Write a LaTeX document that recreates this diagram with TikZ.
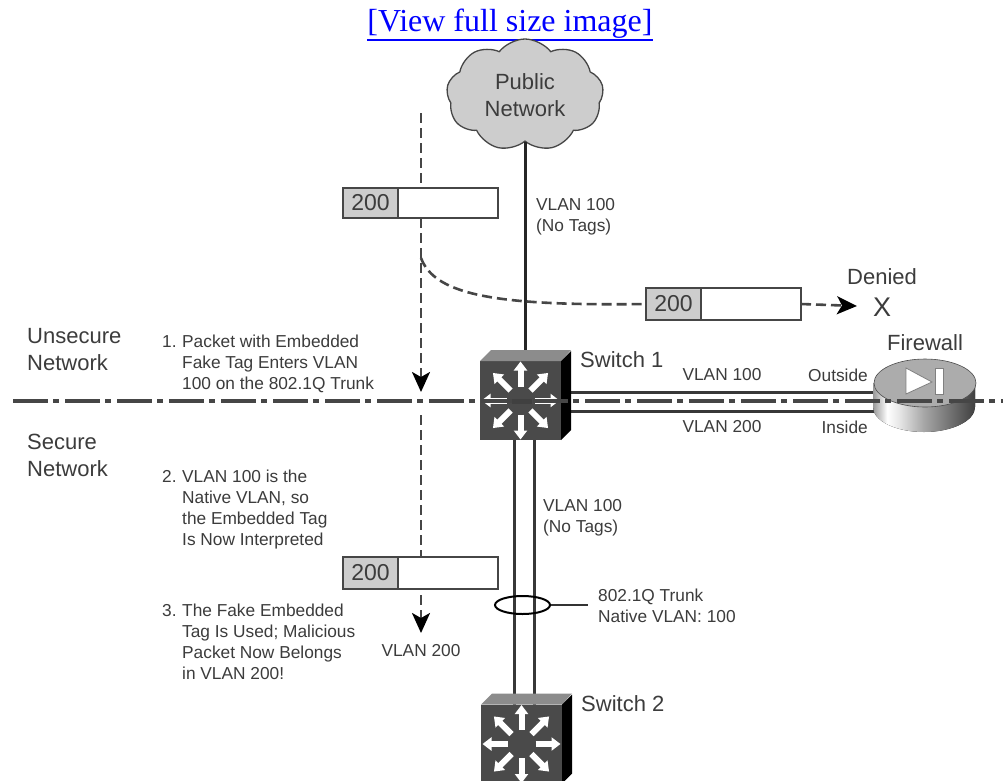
\documentclass[tikz,border=0pt]{standalone}
\usepackage{fontspec}
\setmainfont{Liberation Sans}
\newfontfamily\linkfont{Liberation Serif}
\usepackage{xcolor}
\usepackage{tikz}
\usetikzlibrary{arrows.meta,positioning,calc,shapes.geometric,shapes.symbols}
\definecolor{ctext}{RGB}{60,60,60}
\definecolor{cline}{RGB}{70,70,70}
\definecolor{cface}{RGB}{74,74,74}
\definecolor{ctop}{RGB}{140,140,140}
\definecolor{ctag}{RGB}{205,205,205}
\definecolor{cfwtop}{RGB}{172,172,172}
\pgfdeclarehorizontalshading{fwbody}{100bp}{color(0bp)=(black!40);color(25bp)=(black!40);color(32bp)=(white);color(38bp)=(black!10);color(50bp)=(black!35);color(75bp)=(black!75);color(100bp)=(black!75)}
\newcommand{\switchicon}[1]{
\fill[ctop] (#1.north west)--++(11,-11)--++(80,0)--(#1.north east)--cycle;
\fill[black] (#1.north east)--++(10,-10)--++(0,79)--(#1.south east)--cycle;
\foreach \a in {0,45,...,315}
\draw[swarrow] ($(#1.center)+(\a:14)$)--($(#1.center)+(\a:39)$);
}

\begin{document}
\begin{tikzpicture}[x=1pt,y=-1pt,>=Latex,
lbl/.style={font=\fontsize{17.3}{21}\selectfont,text=ctext,align=left,inner sep=0pt},
biglbl/.style={font=\fontsize{22}{27}\selectfont,text=ctext,align=left,inner sep=0pt},
tagbox/.style={draw=cline,line width=1.5pt,fill=ctag,minimum width=55pt,minimum height=30pt,inner sep=0pt,outer sep=0pt,text=ctext,font=\fontsize{23}{23}\selectfont},
pktbox/.style={draw=cline,line width=1.5pt,fill=white,minimum width=100pt,minimum height=30pt,outer sep=0pt},
swface/.style={fill=cface,minimum width=81pt,minimum height=79pt,inner sep=0pt,outer sep=0pt},
swarrow/.style={-{Triangle[length=9pt,width=13pt]},white,line width=6pt},
link/.style={line width=3pt,draw=cline!80!black},
flow/.style={draw=cline,line width=2.6pt,dash pattern=on 10pt off 5pt},
flowarr/.style={flow,-{Stealth[length=20pt,width=18pt,inset=5pt,color=black,fill=black]}},
border/.style={draw=cline,line width=3.2pt,dash pattern=on 35pt off 5pt on 6pt off 6pt}]
\useasboundingbox (0,0) rectangle (1003,780);
\clip (0,0) rectangle (1003,780);
\fill[white] (0,0) rectangle (1003,780);
\node[text=blue,font=\linkfont\fontsize{32}{32}\selectfont,inner sep=0pt] (viewlink) at (510,24) {[View full size image]};
\draw[blue,line width=1.6pt] ([yshift=-1pt]viewlink.south west)--([yshift=-1pt]viewlink.south east);
\node[cloud,cloud puffs=9,cloud puff arc=105,aspect=1.42,draw=cline,line width=1.3pt,fill=ctag,minimum width=157pt,minimum height=112pt,inner sep=0pt,align=center,text=ctext,font=\fontsize{22}{27}\selectfont] (public) at (525,95) {Public\\Network};
\node[swface] (sw1) at (520.5,400.5) {};
\node[swface] (sw2) at (521.5,744) {};
\node[ellipse,minimum width=102pt,minimum height=48pt,inner sep=0pt,outer sep=0pt] (firewall) at (925,383) {};
\coordinate (flowtop) at (421,113);
\coordinate (flowhit) at (421,392);
\coordinate (flowrest) at (421,415);
\coordinate (flowend) at (421,633);
\coordinate (branch) at (421,258);
\coordinate (denytip) at (857,306);
\coordinate (borderl) at (13,401);
\coordinate (borderr) at (1003,401);
\coordinate (trunkend) at (588,605);
\draw[link,black!85] (public.south)--(public.south |- sw1.north);
\draw[link] ([xshift=-6.5pt]sw1.south)--([xshift=-7.5pt]sw2.north);
\draw[link] ([xshift=13.5pt]sw1.south)--([xshift=12.5pt]sw2.north);
\draw[link] ([yshift=8.5pt]sw1.east)--([yshift=8.5pt]sw1.east -| firewall.west);
\draw[link] ([yshift=-10.5pt]sw1.east)--([yshift=-10.5pt]sw1.east -| firewall.west);
\draw[flowarr] (flowtop)--(flowhit);
\draw[flowarr] (flowrest)--(flowend);
\node[tagbox] (tag1) at (370.5,203) {200};
\node[pktbox,right=0pt of tag1] (pkt1) {};
\node[tagbox,minimum height=32pt] (tag2) at (673.5,304) {200};
\node[pktbox,minimum height=32pt,right=0pt of tag2] (pkt2) {};
\node[tagbox,minimum height=32pt] (tag3) at (370.5,573) {200};
\node[pktbox,minimum height=32pt,right=0pt of tag3] (pkt3) {};
\draw[flow] (branch) .. controls (435,296) and (500,306) .. (tag2.west);
\draw[flowarr] (pkt2.east)--(denytip);
\switchicon{sw1}
\switchicon{sw2}
\fill[shading=fwbody] (873,383) -- (873,407) arc[start angle=180,end angle=0,x radius=51,y radius=25] -- (975,383) -- cycle;
\draw[black!70,line width=.6pt,fill=cfwtop] (firewall.center) ellipse [x radius=51,y radius=24];
\fill[white,draw=gray,line width=.8pt] (906,368)--(932,382)--(906,394)--cycle;
\fill[white,draw=gray,line width=.8pt] (935,368) rectangle (943,394);
\draw[border] (borderl)--(borderr);
\fill[black!75] (512,398.5) rectangle (532,403.5);
\node[ellipse,draw=black,line width=2pt,minimum width=55pt,minimum height=18pt,inner sep=0pt] (trunkring) at (522.5,605) {};
\node[lbl,anchor=west] (trunklbl) at (598,605.5) {802.1Q Trunk\\Native VLAN: 100};
\draw[black!80,line width=2.2pt] (trunkring.east)--(trunkend);
\node[biglbl,anchor=west] (sw1lbl) at (580,360) {Switch 1};
\node[biglbl,anchor=west] (sw2lbl) at (581,704) {Switch 2};
\node[biglbl,anchor=center] (fwlbl) at (925,343) {Firewall};
\node[biglbl,anchor=center] (deniedlbl) at (882,277) {Denied};
\node[font=\fontsize{27}{27}\selectfont,text=ctext,inner sep=0pt] (denyx) at (882,307) {X};
\node[biglbl,anchor=west] (unsecure) at (27,350) {Unsecure\\Network};
\node[biglbl,anchor=west] (secure) at (27,455) {Secure\\Network};
\node[lbl,anchor=west] (untag1) at (536,217) {VLAN 100\\(No Tags)};
\node[lbl,anchor=west] (untag2) at (543,518) {VLAN 100\\(No Tags)};
\node[lbl,anchor=center] (vlan1) at (722,375) {VLAN 100};
\node[lbl,anchor=center] (vlan2) at (722,427) {VLAN 200};
\node[lbl,anchor=east] (outside) at (868,375) {Outside};
\node[lbl,anchor=east] (inside) at (868,427) {Inside};
\node[lbl,anchor=center] (vlan3) at (421,651) {VLAN 200};
\node[lbl,anchor=north west] (num1) at (162,335) {1.};
\node[lbl,anchor=north west] (step1) at (182,335) {Packet with Embedded\\Fake Tag Enters VLAN\\100 on the 802.1Q Trunk};
\node[lbl,anchor=north west] (num2) at (162,470) {2.};
\node[lbl,anchor=north west] (step2) at (182,470) {VLAN 100 is the\\Native VLAN, so\\the Embedded Tag\\Is Now Interpreted};
\node[lbl,anchor=north west] (num3) at (162,604) {3.};
\node[lbl,anchor=north west] (step3) at (182,604) {The Fake Embedded\\Tag Is Used; Malicious\\Packet Now Belongs\\in VLAN 200!};
\end{tikzpicture}
\end{document}
